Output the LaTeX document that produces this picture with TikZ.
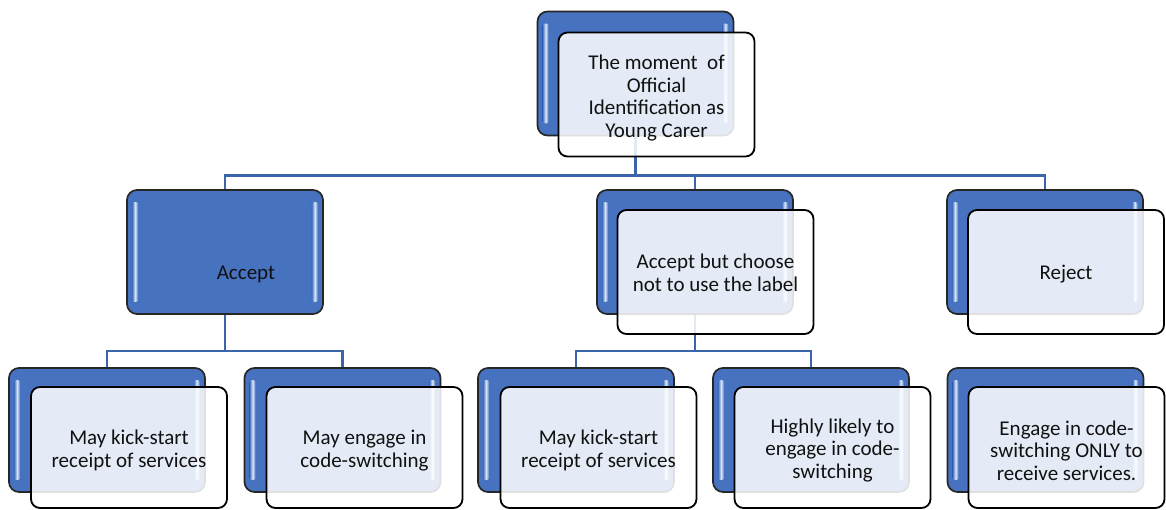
\documentclass[tikz,border=0pt]{standalone}
\usepackage{fontspec}
\setmainfont{Carlito}
\usetikzlibrary{calc}

\definecolor{boxblue}{HTML}{4672C0}
\definecolor{connblue}{HTML}{3C64AA}
\definecolor{glint}{HTML}{DCE8F8}
\definecolor{inktext}{HTML}{111111}

% glossy vertical strips inside a blue card
\newcommand{\bluegloss}[1]{%
  \shade[left color=boxblue, right color=boxblue, middle color=glint, rounded corners=2pt]
    ($(#1.north west)+(6,13)$) rectangle ($(#1.south west)+(12,-13)$);
  \shade[left color=boxblue, right color=boxblue, middle color=glint, rounded corners=2pt]
    ($(#1.north east)+(-12,13)$) rectangle ($(#1.south east)+(-6,-13)$);
}

\tikzset{
  bluebox/.style={draw=black!85, line width=1.7pt, rounded corners=10pt, fill=boxblue,
    minimum width=196pt, minimum height=124pt, inner sep=0pt},
  whitebox/.style={draw=black, line width=1.8pt, rounded corners=9pt, fill=white,
    fill opacity=0.86, minimum width=196pt, minimum height=124pt, inner sep=0pt},
  lowbox/.style={whitebox, minimum height=121pt},
  lbl/.style={align=center, inner sep=0pt, text=inktext},
  conn/.style={draw=connblue, line width=2.6pt}
}

\begin{document}
\begin{tikzpicture}[x=1pt, y=-1pt, font=\fontsize{21}{22.7}\selectfont]
\useasboundingbox (0,0) rectangle (1166,510);

% blue back cards
\node[bluebox] (rootB)   at (635.5,73.5) {};
\node[bluebox] (acceptB) at (225,252) {};
\node[bluebox] (midB)    at (695,252) {};
\node[bluebox] (rejectB) at (1045,252) {};
\node[bluebox] (b1B) at (107,430) {};
\node[bluebox] (b2B) at (342.5,430) {};
\node[bluebox] (b3B) at (576,430) {};
\node[bluebox] (b4B) at (811,430) {};
\node[bluebox] (b5B) at (1045.5,430) {};

\foreach \n in {rootB,acceptB,midB,rejectB,b1B,b2B,b3B,b4B,b5B}{\bluegloss{\n}}

% elbow connectors
\path (rootB.south) ++(0,39) coordinate (j0);
\path (acceptB.south) ++(0,36) coordinate (j1);
\path (midB.south) ++(0,36) coordinate (j2);

\draw[conn] (rootB.south) -- (j0) -| (acceptB.north);
\draw[conn] (j0) -| (midB.north);
\draw[conn] (j0) -| (rejectB.north);

\draw[conn] (acceptB.south) -- (j1) -| (b1B.north);
\draw[conn] (j1) -| (b2B.north);

\draw[conn] (midB.south) -- (j2) -| (b3B.north);
\draw[conn] (j2) -| (b4B.north);

% front cards
\node[whitebox] (rootW)   at ($(rootB.center)+(21,21)$) {};
\node[whitebox] (midW)    at ($(midB.center)+(20.5,20)$) {};
\node[whitebox] (rejectW) at ($(rejectB.center)+(21,20)$) {};
\node[lowbox] (b1W) at ($(b1B.center)+(22,17.5)$) {};
\node[lowbox] (b2W) at ($(b2B.center)+(22,17.5)$) {};
\node[lowbox] (b3W) at ($(b3B.center)+(22.5,17.5)$) {};
\node[lowbox] (b4W) at ($(b4B.center)+(21.5,17.5)$) {};
\node[lowbox] (b5W) at ($(b5B.center)+(21,17.5)$) {};

% texts
\node[lbl] (rootT) at ($(rootW.center)+(0,3.5)$)
  {The moment\ \ of\\Official\\Identification as\\Young Carer};
\node[lbl] (acceptT) at ($(acceptB.center)+(21,22)$) {Accept};
\node[lbl] (midT) at ($(midW.center)+(0,1)$) {Accept but choose\\not to use the label};
\node[lbl] (rejectT) at ($(rejectW.center)+(0,2)$) {Reject};
\node[lbl] (b1T) at ($(b1W.center)+(0,3)$) {May kick-start\\receipt of services};
\node[lbl] (b2T) at ($(b2W.center)+(0,3)$) {May engage in\\code-switching};
\node[lbl] (b3T) at ($(b3W.center)+(0,3)$) {May kick-start\\receipt of services};
\node[lbl] (b4T) at ($(b4W.center)+(0,3)$) {Highly likely to\\engage in code-\\switching};
\node[lbl] (b5T) at ($(b5W.center)+(0,3)$) {Engage in code-\\switching ONLY to\\receive services.};
\end{tikzpicture}
\end{document}
